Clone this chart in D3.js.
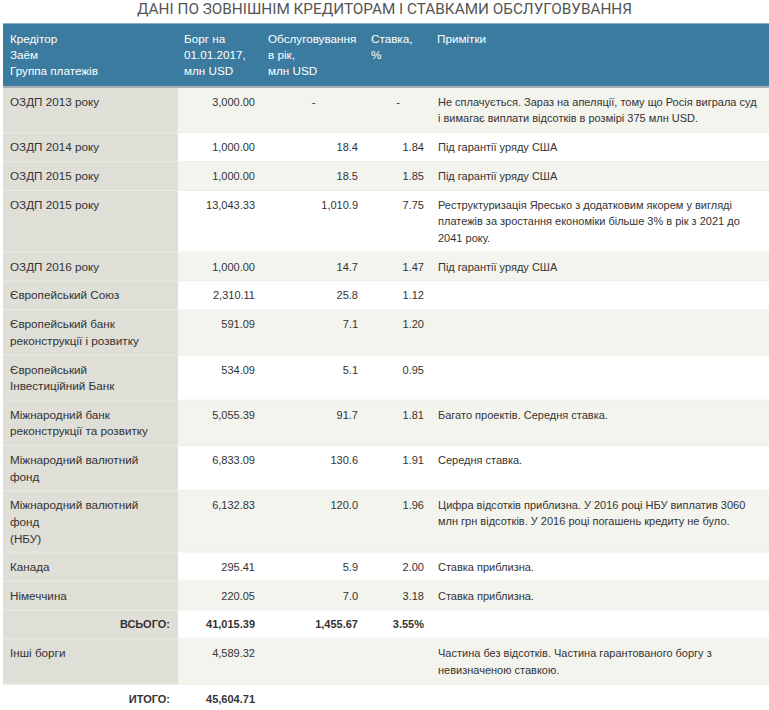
<!DOCTYPE html>
<html>
<head>
<meta charset="utf-8">
<script src="https://cdn.jsdelivr.net/npm/d3@7"></script>
<style>
  body { margin: 0; background: #fff; }
  svg { display: block; font-family: "Liberation Sans", Arial, sans-serif; }
</style>
</head>
<body>
<script>
// Table data
var headers = [
    ['Кредітор', 'Заём', 'Группа платежів'],
    ['Борг на', '01.01.2017,', 'млн USD'],
    ['Обслуговування', 'в рік,', 'млн USD'],
    ['Ставка,', '%'],
    ['Примітки']
];

var creditors = [
    ['ОЗДП 2013 року'],
    ['ОЗДП 2014 року'],
    ['ОЗДП 2015 року'],
    ['ОЗДП 2015 року'],
    ['ОЗДП 2016 року'],
    ['Європейський Союз'],
    ['Європейський банк', 'реконструкції і розвитку'],
    ['Європейський', 'Інвестиційний Банк'],
    ['Міжнародний банк', 'реконструкції та розвитку'],
    ['Міжнародний валютний', 'фонд'],
    ['Міжнародний валютний', 'фонд', '(НБУ)'],
    ['Канада'],
    ['Німеччина']
];

var debt = [3000.00, 1000.00, 1000.00, 13043.33, 1000.00, 2310.11, 591.09, 534.09,
            5055.39, 6833.09, 6132.83, 295.41, 220.05];

var service = [null, 18.4, 18.5, 1010.9, 14.7, 25.8, 7.1, 5.1, 91.7, 130.6, 120.0, 5.9, 7.0];

var rate = [null, 1.84, 1.85, 7.75, 1.47, 1.12, 1.20, 0.95, 1.81, 1.91, 1.96, 2.00, 3.18];

var notes = [
    ['Не сплачується. Зараз на апеляції, тому що Росія виграла суд', 'і вимагає виплати відсотків в розмірі 375 млн USD.'],
    ['Під гарантії уряду США'],
    ['Під гарантії уряду США'],
    ['Реструктуризація Яресько з додатковим якорем у вигляді', 'платежів за зростання економіки більше 3% в рік з 2021 до', '2041 року.'],
    ['Під гарантії уряду США'],
    [],
    [],
    [],
    ['Багато проектів. Середня ставка.'],
    ['Середня ставка.'],
    ['Цифра відсотків приблизна. У 2016 році НБУ виплатив 3060', 'млн грн відсотків. У 2016 році погашень кредиту не було.'],
    ['Ставка приблизна.'],
    ['Ставка приблизна.']
];

var totalLabel = 'ВСЬОГО:';
var totalDebt = 41015.39;
var totalService = 1455.67;
var totalRate = 3.55;

var otherLabel = ['Інші борги'];
var otherDebt = 4589.32;
var otherNote = ['Частина без відсотків. Частина гарантованого боргу з', 'невизначеною ставкою.'];

var grandLabel = 'ИТОГО:';
var grandDebt = 45604.71;

var title = 'ДАНІ ПО ЗОВНІШНІМ КРЕДИТОРАМ І СТАВКАМИ ОБСЛУГОВУВАННЯ';

window.onload = function(){
    var width = 769, height = 710;
    var fmt2 = d3.format(',.2f'), fmt1 = d3.format(',.1f');

    var svg = d3.select('body').append('svg')
        .attr('width', width)
        .attr('height', height);

    // column edges: creditor, debt, service, rate, notes
    var edges = [3, 178, 262, 365, 431, width];
    var pad = 7;
    var textColor = '#333';

    // Title
    svg.append('text')
        .attr('x', width / 2)
        .attr('y', 13.5)
        .attr('text-anchor', 'middle')
        .attr('textLength', 495)
        .attr('lengthAdjust', 'spacingAndGlyphs')
        .style('font-family', '"Liberation Sans Narrow", "Roboto", sans-serif')
        .style('font-size', '14.5px')
        .style('fill', '#555')
        .text(title);

    // Header
    var headTop = 24, headBottom = 86;
    svg.append('rect')
        .attr('x', edges[0]).attr('y', headTop - 1)
        .attr('width', width - edges[0]).attr('height', headBottom - headTop + 1)
        .style('fill', '#3a7b9f');
    svg.append('rect')
        .attr('x', edges[0]).attr('y', headTop - 1)
        .attr('width', width - edges[0]).attr('height', 1)
        .style('fill', '#8fb1c4');
    svg.append('rect')
        .attr('x', edges[0]).attr('y', headBottom)
        .attr('width', width - edges[0]).attr('height', 2)
        .style('fill', '#a9b0b2');

    headers.forEach(function(lines, i){
        var t = svg.append('text')
            .attr('y', headTop + 19)
            .style('font-size', '11.7px')
            .style('fill', '#fff');
        t.selectAll('tspan')
            .data(lines)
            .enter()
            .append('tspan')
            .attr('x', edges[i] + (i === 0 ? 7 : 6))
            .attr('dy', function(d, j){ return j === 0 ? 0 : 16; })
            .text(function(d){ return d; });
    });

    // Build rows
    var rows = creditors.map(function(c, i){
        return {label: c, debt: debt[i], service: service[i], rate: rate[i], note: notes[i], kind: 'item'};
    });
    rows.push({label: [totalLabel], debt: totalDebt, service: totalService, rate: totalRate, note: [], kind: 'total'});
    rows.push({label: otherLabel, debt: otherDebt, service: undefined, rate: undefined, note: otherNote, kind: 'other'});
    rows.push({label: [grandLabel], debt: grandDebt, service: undefined, rate: undefined, note: [], kind: 'grand'});

    // row height grows with the number of text lines in the row
    var y = headBottom + 2;
    rows.forEach(function(r){
        var n = Math.max(r.label.length, r.note.length, 1);
        r.y = y;
        r.h = 12.6 + 16.3 * n;
        y += r.h;
    });

    function isBold(d){ return d.kind === 'total' || d.kind === 'grand'; }

    var rowG = svg.selectAll('.row')
        .data(rows)
        .enter()
        .append('g')
        .attr('class', 'row')
        .attr('transform', function(d){ return 'translate(0,' + d.y + ')'; });

    // backgrounds
    var filled = rowG.filter(function(d){ return d.kind !== 'grand'; });
    filled.append('rect')
        .attr('x', edges[1]).attr('y', 0)
        .attr('width', width - edges[1])
        .attr('height', function(d){ return d.h; })
        .style('fill', function(d, i){ return i % 2 === 0 ? '#f4f4ef' : '#fff'; });
    filled.append('rect')
        .attr('x', edges[0]).attr('y', 0)
        .attr('width', edges[1] - edges[0])
        .attr('height', function(d){ return d.h; })
        .style('fill', '#dfded7');
    filled.append('rect')
        .attr('x', edges[0])
        .attr('y', function(d){ return d.h - 1; })
        .attr('width', width - edges[0]).attr('height', 1)
        .style('fill', '#ebebe5');

    var textBase = 18;

    // creditor labels
    var labels = rowG.append('text')
        .attr('y', textBase)
        .attr('text-anchor', function(d){ return isBold(d) ? 'end' : 'start'; })
        .style('font-size', function(d){ return isBold(d) ? '11px' : '11.7px'; })
        .style('font-weight', function(d){ return isBold(d) ? 'bold' : 'normal'; })
        .style('fill', textColor);
    labels.selectAll('tspan')
        .data(function(d){ return d.label.map(function(l){ return {text: l, bold: isBold(d)}; }); })
        .enter()
        .append('tspan')
        .attr('x', function(d){ return d.bold ? edges[1] - 8 : 10; })
        .attr('dy', function(d, j){ return j === 0 ? 0 : 16.8; })
        .text(function(d){ return d.text; });

    // numeric cells
    function numCell(col, accessor, formatter){
        rowG.append('text')
            .attr('y', textBase)
            .attr('x', function(d){
                return accessor(d) === null ? (edges[col] + edges[col + 1]) / 2 : edges[col + 1] - pad;
            })
            .attr('text-anchor', function(d){ return accessor(d) === null ? 'middle' : 'end'; })
            .style('font-size', '11px')
            .style('font-weight', function(d){ return isBold(d) ? 'bold' : 'normal'; })
            .style('fill', textColor)
            .text(function(d){
                var v = accessor(d);
                if (v === undefined) return '';
                if (v === null) return '-';
                return formatter(v, d);
            });
    }
    numCell(1, function(d){ return d.debt; }, function(v){ return fmt2(v); });
    numCell(2, function(d){ return d.service; }, function(v, d){ return d.kind === 'total' ? fmt2(v) : fmt1(v); });
    numCell(3, function(d){ return d.rate; }, function(v, d){ return d.kind === 'total' ? d3.format('.2f')(v) + '%' : d3.format('.2f')(v); });

    // notes
    var noteText = rowG.append('text')
        .attr('y', textBase)
        .style('font-size', '11px')
        .style('fill', textColor);
    noteText.selectAll('tspan')
        .data(function(d){ return d.note; })
        .enter()
        .append('tspan')
        .attr('x', edges[4] + 7)
        .attr('dy', function(d, j){ return j === 0 ? 0 : 16.3; })
        .text(function(d){ return d; });
};
</script>
</body>
</html>
